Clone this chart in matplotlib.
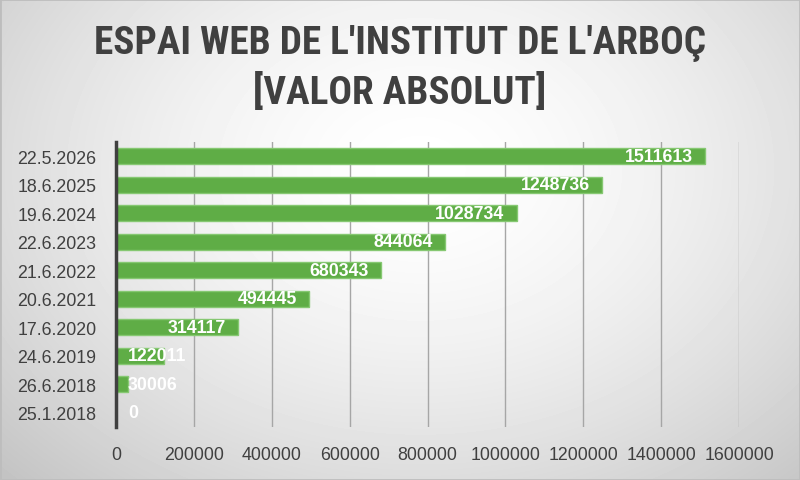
import numpy as np
import matplotlib
matplotlib.use('Agg')
import matplotlib.pyplot as plt

dates = ['25.1.2018', '26.6.2018', '24.6.2019', '17.6.2020', '20.6.2021',
         '21.6.2022', '22.6.2023', '19.6.2024', '18.6.2025', '22.5.2026']
visits = [0, 30006, 122011, 314117, 494445, 680343, 844064, 1028734, 1248736, 1511613]
xticks = [0, 200000, 400000, 600000, 800000, 1000000, 1200000, 1400000, 1600000]

W, H = 800, 481
fig = plt.figure(figsize=(W / 100, H / 100), dpi=100)

# fons amb degradat radial
bg = fig.add_axes([0, 0, 1, 1], zorder=0)
yy, xx = np.mgrid[0:H, 0:W]
r = np.sqrt(((xx - 420) / 560.0) ** 2 + ((yy - 170) / 420.0) ** 2)
val = 1.0 - 0.22 * np.clip(r, 0, 1.2) ** 1.6
bg.imshow(val, cmap='gray', vmin=0, vmax=1, aspect='auto', interpolation='bilinear')
bg.set_axis_off()
fig.patches.append(plt.Rectangle((0, 0), 1, 1, transform=fig.transFigure,
                                 fill=False, edgecolor='#bdbdbd', linewidth=2, zorder=5))

ax = fig.add_axes([116 / W, 1 - 428 / H, (739 - 116) / W, 285 / H], zorder=1)
ax.patch.set_alpha(0)
y = np.arange(len(dates))
ax.barh(y, visits, height=0.56, color='#5fad46', edgecolor='#86c872', linewidth=1, zorder=3)
ax.set_xlim(0, 1600000)
ax.set_ylim(-0.5, len(dates) - 0.5)
ax.set_xticks(xticks)
ax.set_xticklabels([str(t) for t in xticks])
ax.set_yticks(y)
ax.set_yticklabels(dates)
ax.tick_params(length=0, labelsize=12.8, labelcolor='#404040')
ax.tick_params(axis='y', pad=14)
ax.tick_params(axis='x', pad=14)
for lab in ax.get_xticklabels() + ax.get_yticklabels():
    lab.set_fontfamily('Liberation Sans')
ax.grid(axis='x', color='#a6a6a6', linewidth=1, zorder=0)
for s in ['top', 'right', 'bottom']:
    ax.spines[s].set_visible(False)
ax.spines['left'].set_color('#404040')
ax.spines['left'].set_linewidth(2.5)
ax.spines['left'].set_zorder(4)

# etiquetes de dades
px = 1600000 / (739 - 116)
for yi, v in zip(y, visits):
    if v / px > 90:
        ax.text(v - 12 * px, yi, str(v), ha='right', va='center', color='white',
                fontsize=12.8, fontweight='bold', family='Liberation Sans', zorder=5)
    else:
        ax.text(12 * px, yi, str(v), ha='left', va='center', color='white',
                fontsize=12.8, fontweight='bold', family='Liberation Sans', zorder=5)

fig.text(0.5, 1 - 44 / H, "ESPAI WEB DE L'INSTITUT DE L'ARBOÇ", ha='center', va='center',
         fontsize=28.3, fontweight='bold', color='#404040', family='Roboto Condensed')
fig.text(0.5, 1 - 93 / H, "[VALOR ABSOLUT]", ha='center', va='center',
         fontsize=28.3, fontweight='bold', color='#404040', family='Roboto Condensed')

fig.savefig('out.png', dpi=100)
